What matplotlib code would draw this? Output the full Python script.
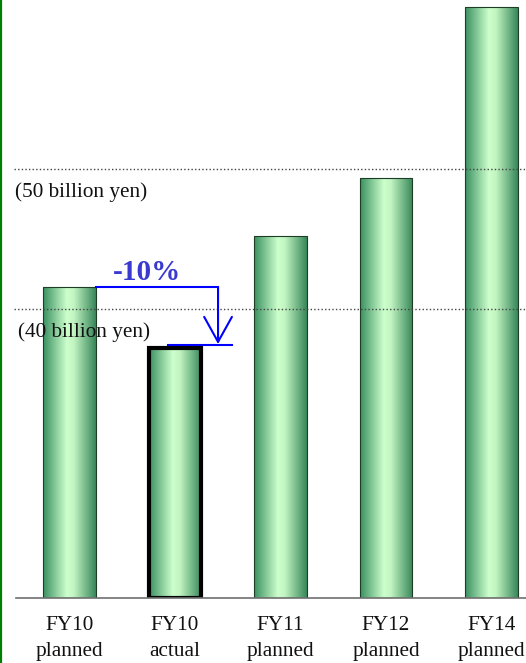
import numpy as np
import matplotlib
matplotlib.use("Agg")
import matplotlib.pyplot as plt
from matplotlib.colors import LinearSegmentedColormap
from matplotlib.lines import Line2D

# ---- data ----
categories = ["FY10\nplanned", "FY10\nactual", "FY11\nplanned", "FY12\nplanned", "FY14\nplanned"]
values = [41.55, 37.2, 45.2, 49.35, 61.55]   # billion yen
ref_levels = [50, 40]
ref_labels = ["(50 billion yen)", "(40 billion yen)"]
change_label = "-10%"

W, H, DPI = 526, 663, 100
fig = plt.figure(figsize=(W / DPI, H / DPI), dpi=DPI)

# axes: bottom edge at baseline pixel 598, top at pixel 0
base_px = 598
ax = fig.add_axes([0, (H - base_px) / H, 1, base_px / H])
ymin, ymax = 19.36, 62.07
xmin, xmax = -69.5 / 105.5, (W - 69.5) / 105.5
ax.set_xlim(xmin, xmax)
ax.set_ylim(ymin, ymax)
for s in ax.spines.values():
    s.set_visible(False)
ax.set_yticks([])

serif = ["Liberation Serif", "DejaVu Serif"]

# gradient bars
cmap = LinearSegmentedColormap.from_list(
    "g", [(0, "#3a9061"), (0.45, "#ccffcc"), (0.58, "#c2f5c2"), (1, "#37875a")])
grad = np.linspace(0, 1, 256).reshape(1, -1)
width = 0.5
x = np.arange(len(values))
bars = ax.bar(x, np.array(values) - ymin, bottom=ymin, width=width,
              facecolor="none", edgecolor="#1d3d25", linewidth=0.8, zorder=3)
for i, b in enumerate(bars):
    x0, y0 = b.get_x(), b.get_y()
    ax.imshow(grad, cmap=cmap, aspect="auto", zorder=2,
              extent=[x0, x0 + b.get_width(), y0, y0 + b.get_height()])
bars[1].set_edgecolor("black")
bars[1].set_linewidth(3.0)
ax.set_xlim(xmin, xmax)
ax.set_ylim(ymin, ymax)

# reference dotted lines + labels
label_x = [15, 18]
for lvl, lab, lx in zip(ref_levels, ref_labels, label_x):
    ax.axhline(lvl, xmin=14 / W, xmax=1, color="#444444", linestyle=(0, (1, 1.6)),
               linewidth=1.0, zorder=5)
    ax.text(xmin + lx / 105.5, lvl - 0.95, lab, family=serif, fontsize=15.3,
            ha="left", va="top", color="#111111", zorder=6)

# baseline
ax.axhline(ymin, xmin=16 / W, xmax=1, color="#707070", linewidth=1.2, zorder=4,
           clip_on=False)

# -10% arrow
blue = "#0000ff"
xa = 1.408
ax.plot([bars[0].get_x() + width, xa], [values[0], values[0]], color=blue, lw=1.5, zorder=7)
ax.annotate("", xy=(xa, values[1] + 0.3), xytext=(xa, values[0]),
            arrowprops=dict(arrowstyle="->,head_length=0.9,head_width=0.5",
                            mutation_scale=20, color=blue, lw=1.5,
                            shrinkA=0, shrinkB=0), zorder=7)
ax.plot([0.93, 1.54], [values[1] + 0.2, values[1] + 0.2], color=blue, lw=1.5, zorder=7)
ax.text(0.736, values[0] + 0.1, change_label, family=serif, fontsize=21,
        fontweight="bold", color="#3a3ad0", ha="center", va="bottom", zorder=7)

# x tick labels
ax.set_xticks(x)
ax.set_xticklabels(categories, family=serif, fontsize=15.3, color="#111111",
                   linespacing=1.5)
ax.tick_params(axis="x", length=0, pad=13)

# left green border
fig.add_artist(Line2D([0.8 / W, 0.8 / W], [0, 1], color="#008000", lw=1.6))

fig.savefig("out.png", dpi=DPI)
